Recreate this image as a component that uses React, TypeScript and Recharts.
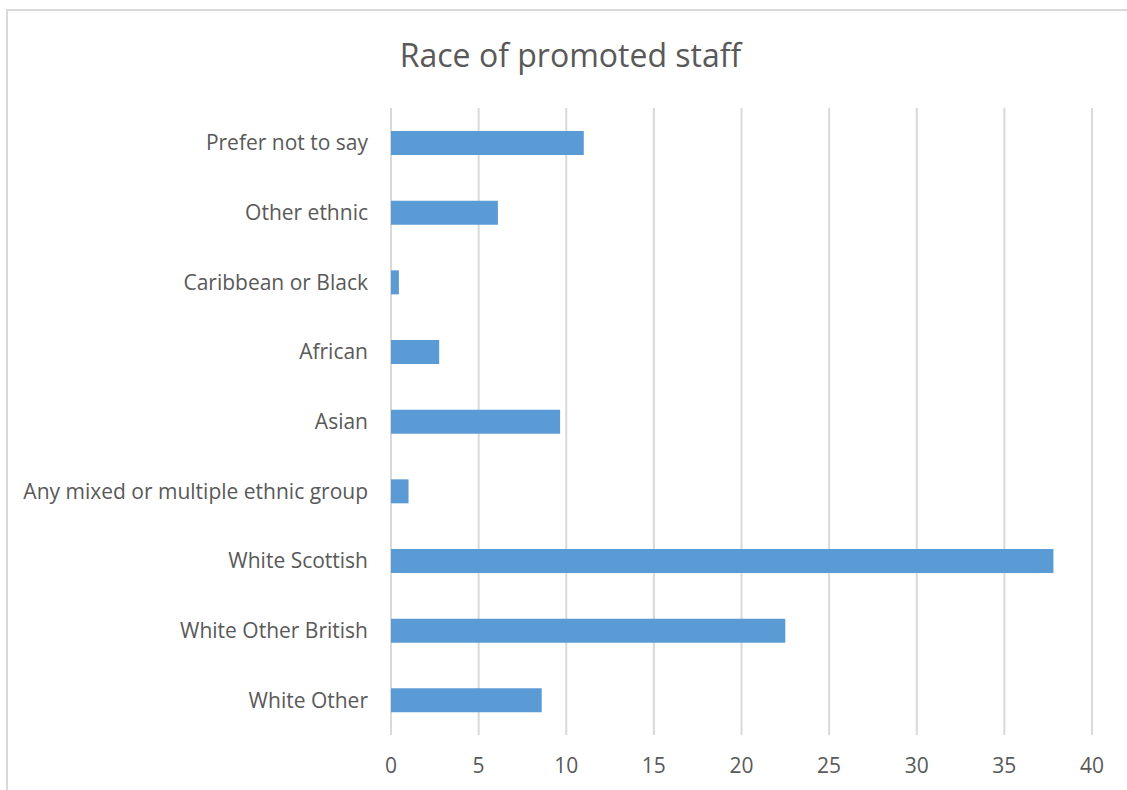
import { BarChart, Bar, XAxis, YAxis, CartesianGrid } from "recharts";

const categories = [
  "Prefer not to say",
  "Other ethnic",
  "Caribbean or Black",
  "African",
  "Asian",
  "Any mixed or multiple ethnic group",
  "White Scottish",
  "White Other British",
  "White Other",
];

const promoted = [11.0, 6.1, 0.45, 2.75, 9.65, 1.0, 37.8, 22.5, 8.6];

const xTicks = [0, 5, 10, 15, 20, 25, 30, 35, 40];

const data = categories.map((name, i) => ({ name, value: promoted[i] }));

const font = "'Open Sans', 'Noto Sans', sans-serif";

export default function App() {
  return (
    <div
      style={{
        position: "absolute",
        left: 0,
        top: 0,
        width: 1127,
        height: 790,
        overflow: "hidden",
        background: "#fff",
        fontFamily: font,
      }}
    >
      <div
        style={{
          position: "absolute",
          left: 6,
          top: 9,
          width: 1140,
          height: 800,
          border: "2px solid #d9d9d9",
          boxSizing: "border-box",
        }}
      />
      <div
        style={{
          position: "absolute",
          left: 0,
          top: 31,
          width: 1141,
          textAlign: "center",
          fontSize: 32,
          color: "#595959",
          lineHeight: "48px",
        }}
      >
        Race of promoted staff
      </div>
      <div style={{ position: "absolute", left: 0, top: 0 }}>
        <BarChart
          width={1127}
          height={790}
          data={data}
          layout="vertical"
          margin={{ top: 108, right: 35, bottom: 0, left: 0 }}
        >
          <CartesianGrid horizontal={false} stroke="#d9d9d9" strokeWidth={2} />
          <XAxis
            type="number"
            domain={[0, 40]}
            ticks={xTicks}
            axisLine={false}
            tickLine={false}
            tickSize={0}
            tickMargin={23}
            height={55}
            tick={{ fontSize: 21, fill: "#595959", fontFamily: font }}
          />
          <YAxis
            type="category"
            dataKey="name"
            width={391}
            axisLine={false}
            tickLine={false}
            tickSize={0}
            tickMargin={23}
            interval={0}
            tick={{ fontSize: 21, fill: "#595959", fontFamily: font }}
          />
          <Bar dataKey="value" fill="#5b9bd5" barSize={24} isAnimationActive={false} />
        </BarChart>
      </div>
    </div>
  );
}
